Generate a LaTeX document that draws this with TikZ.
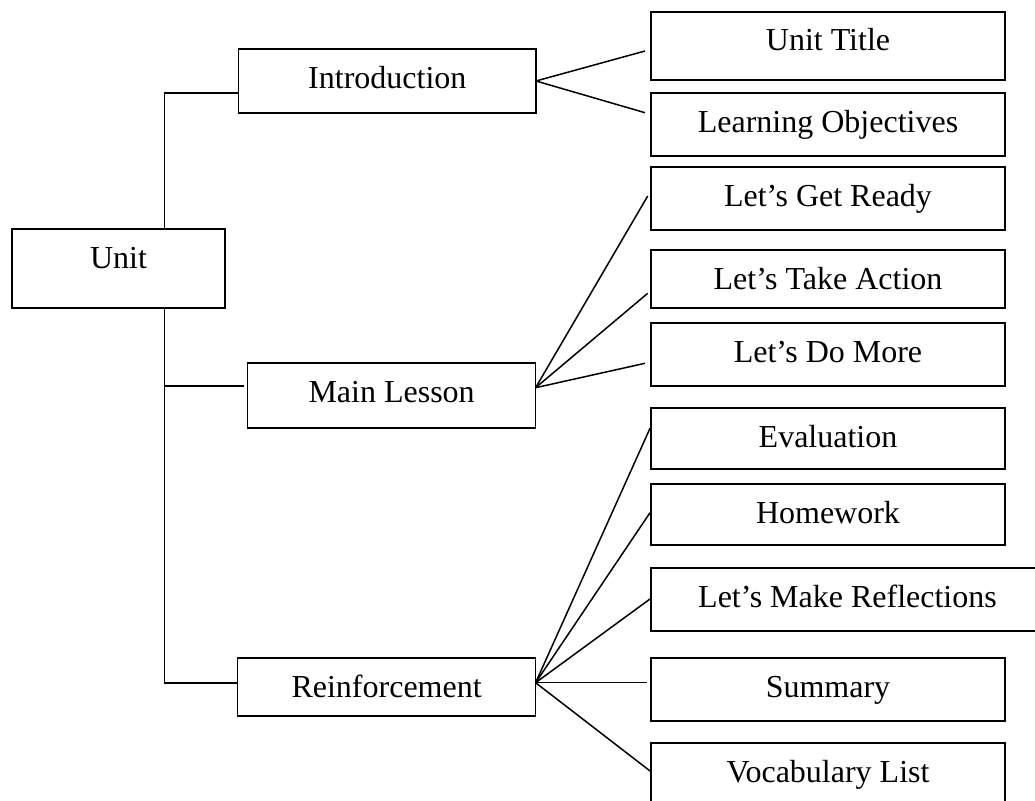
\documentclass[tikz,border=0pt]{standalone}
\usepackage{fontspec}
\setmainfont{Liberation Serif}
\usetikzlibrary{calc}
\tikzset{
  bx/.style 2 args={draw, line width=1.6pt, anchor=north west, outer sep=0pt,
    inner xsep=0pt, inner ysep=10pt, text height=29pt, text depth=#2,
    minimum width=#1, align=center},
  link/.style={line width=1.5pt, line cap=butt}
}
\begin{document}
\begin{tikzpicture}[x=1pt, y=-1pt, font=\fontsize{32}{38}\selectfont]
\useasboundingbox (0,0) rectangle (1035,800);
% left column
\node[bx={213pt}{30pt}] (unit) at (12,229) {Unit};
\node[bx={297.4pt}{15pt}] (intro) at (238.6,49) {Introduction};
\node[bx={288pt}{16pt}] (main) at (247.6,363) {Main Lesson};
\node[bx={298pt}{9pt}] (reinf) at (237.6,658) {Reinforcement};
% right column
\node[bx={354pt}{19pt}] (ut) at (651,12) {Unit Title};
\node[bx={354pt}{14pt}] (lo) at (651,93) {Learning Objectives};
\node[bx={354pt}{14pt}] (lgr) at (651,167) {Let’s Get Ready};
\node[bx={354pt}{9pt}] (lta) at (651,250) {Let’s Take Action};
\node[bx={354pt}{14pt}] (ldm) at (651,323) {Let’s Do More};
\node[bx={354pt}{12pt}] (eval) at (651,408) {Evaluation};
\node[bx={354pt}{12pt}] (hw) at (651,484) {Homework};
\node[bx={393pt}{14pt}] (refl) at (651,568) {Let’s Make Reflections};
\node[bx={354pt}{14pt}] (sum) at (651,658) {Summary};
\node[bx={354pt}{14pt}] (voc) at (651,743) {Vocabulary List};
% tree trunk
\coordinate (j) at (164.3,0);
\coordinate (mlin) at ([xshift=-4pt,yshift=9.5pt]main.west);
\draw[link] (unit.north -| j) |- ([yshift=-12pt]intro.west);
\draw[link] (unit.south -| j) |- ([yshift=4pt]reinf.west);
\draw[link] (mlin) -- (j |- mlin);
% introduction fan
\draw[link] (intro.east) -- ([xshift=-6pt,yshift=-5pt]ut.west);
\draw[link] (intro.east) -- ([xshift=-6pt,yshift=11.8pt]lo.west);
% main lesson fan
\coordinate (mlout) at ([yshift=7.8pt]main.east);
\draw[link] (mlout) -- ([xshift=-3.3pt,yshift=2.5pt]lgr.west);
\draw[link] (mlout) -- ([xshift=-3.3pt,yshift=-14.3pt]lta.west);
\draw[link] (mlout) -- ([xshift=-6pt,yshift=-8.8pt]ldm.west);
% reinforcement fan
\coordinate (rout) at ([yshift=4.3pt]reinf.east);
\draw[link] (rout) -- ([xshift=-1pt,yshift=10.2pt]eval.west);
\draw[link] (rout) -- ([xshift=-1pt,yshift=1.8pt]hw.west);
\draw[link] (rout) -- ([xshift=-1pt,yshift=0.5pt]refl.west);
\draw[link] (rout) -- ([xshift=-3.6pt,yshift=6.8pt]sum.west);
\draw[link] (rout) -- ([yshift=2.8pt]voc.west);
\end{tikzpicture}
\end{document}
